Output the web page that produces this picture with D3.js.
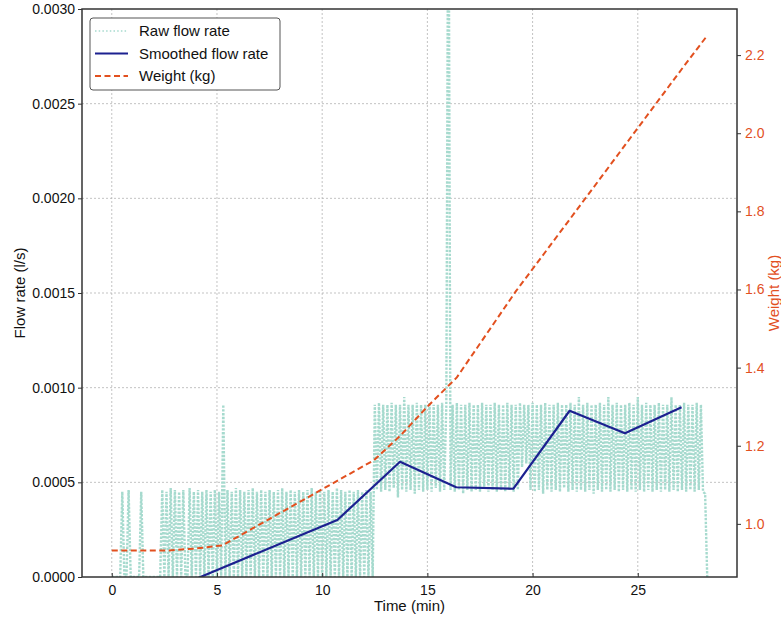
<!DOCTYPE html>
<html>
<head>
<meta charset="utf-8">
<script src="https://cdn.jsdelivr.net/npm/d3@7"></script>
<style>
  html, body { margin: 0; padding: 0; background: #fff; }
  svg { display: block; font-family: "Liberation Sans", Arial, sans-serif; }
</style>
</head>
<body>
<svg id="chart" width="781" height="618"></svg>
<script>
// ---------------- data ----------------
// Raw flow rate, sampled every 0.1 min from t = 0, values in units of 1e-5 l/s
const rawStartMin = 0;
const rawStepMin = 0.1;
const rawFlowE5 = [
  0,0,0,0,0,45,0,0,46,0,
  0,0,0,0,45,0,0,0,0,0,
  0,0,0,0,46,0,45,0,47,0,
  46,0,45,0,46,0,0,47,0,45,
  0,46,0,45,0,46,0,45,0,46,
  0,45,0,91,0,46,0,45,0,47,
  0,46,0,45,0,46,0,47,0,45,
  0,46,0,45,0,46,0,45,0,46,
  0,47,0,45,0,46,0,45,0,46,
  0,45,0,46,0,47,0,45,0,46,
  0,45,0,46,0,45,0,47,0,46,
  0,45,0,46,0,45,0,46,0,45,
  0,46,0,45,0,91,46,92,45,91,
  46,91,45,92,47,91,42,91,46,95,
  45,91,46,91,44,92,46,91,45,91,
  46,92,45,91,47,91,45,92,46,91,
  400,46,91,45,92,46,91,44,91,46,
  92,45,91,46,91,45,92,47,91,45,
  91,46,92,45,91,46,91,45,92,46,
  91,45,91,46,92,58,91,60,91,46,
  92,45,91,46,91,44,92,46,91,45,
  91,46,92,45,91,47,91,45,92,46,
  91,45,95,46,91,45,92,46,91,44,
  91,46,92,45,91,46,95,45,91,46,
  92,45,91,46,91,45,92,46,91,45,
  95,46,91,45,92,46,91,45,91,46,
  92,45,91,46,91,45,95,46,91,45,
  91,46,92,45,91,46,91,45,92,46,
  91,45,44,0
];

// Smoothed flow rate (l/s)
const smoothTime = [2.67, 5.35, 8.03, 10.72, 13.70, 16.37, 19.08, 21.76, 24.39, 27.08];
const smoothFlow = [-0.000072, 0.000053, 0.000177, 0.000301, 0.000609, 0.000474, 0.000466, 0.000878, 0.000759, 0.000896];

// Weight (kg)
const weightTime = [0, 2.7, 4.0, 5.26, 12.46, 13.7, 15.0, 16.4, 19.2, 21.8, 24.4, 27.1, 28.3];
const weightKg   = [0.932, 0.932, 0.937, 0.945, 1.163, 1.225, 1.300, 1.375, 1.595, 1.782, 1.970, 2.165, 2.250];

// Ticks
const xTicks = [0, 5, 10, 15, 20, 25];
const flowTicks = [0, 0.0005, 0.0010, 0.0015, 0.0020, 0.0025, 0.0030];
const weightTicks = [1.0, 1.2, 1.4, 1.6, 1.8, 2.0, 2.2];

// ---------------- styles ----------------
const C_RAW = "#a6dace";
const C_SMOOTH = "#1c2190";
const C_WEIGHT = "#e2501f";
const C_AXIS = "#333";

const W = 781, H = 618;
const M = { left: 82, right: 44, top: 9, bottom: 41 };
const pw = W - M.left - M.right, ph = H - M.top - M.bottom;

const svg = d3.select("#chart");
const g = svg.append("g").attr("transform", `translate(${M.left},${M.top})`);

const x = d3.scaleLinear().domain([-1.415, 29.715]).range([0, pw]);
const yL = d3.scaleLinear().domain([0, 0.0030]).range([ph, 0]);
const yR = d3.scaleLinear().domain([0.864, 2.318]).range([ph, 0]);

svg.append("defs").append("clipPath").attr("id", "clip")
  .append("rect").attr("x", 0).attr("y", 0).attr("width", pw).attr("height", ph);

// grid
const grid = g.append("g");
grid.selectAll(".vg").data(xTicks).join("line")
  .attr("x1", d => x(d)).attr("x2", d => x(d)).attr("y1", 0).attr("y2", ph)
  .attr("stroke", "#b4b4b4").attr("stroke-width", 0.8).attr("stroke-dasharray", "2,2");
grid.selectAll(".hg").data(flowTicks.slice(1, -1)).join("line")
  .attr("x1", 0).attr("x2", pw).attr("y1", d => yL(d)).attr("y2", d => yL(d))
  .attr("stroke", "#b4b4b4").attr("stroke-width", 0.8).attr("stroke-dasharray", "2,2");

const plot = g.append("g").attr("clip-path", "url(#clip)");

// raw flow
const rawPts = rawFlowE5.map((v, i) => [rawStartMin + i * rawStepMin, v * 1e-5]);
plot.append("path").datum(rawPts)
  .attr("fill", "none").attr("stroke", C_RAW).attr("stroke-width", 2.4)
  .attr("stroke-dasharray", "2.4,1.4")
  .attr("d", d3.line().x(d => x(d[0])).y(d => yL(d[1])));

// smoothed flow
plot.append("path").datum(smoothTime.map((t, i) => [t, smoothFlow[i]]))
  .attr("fill", "none").attr("stroke", C_SMOOTH).attr("stroke-width", 2.2)
  .attr("stroke-linejoin", "round")
  .attr("d", d3.line().x(d => x(d[0])).y(d => yL(d[1])));

// weight
plot.append("path").datum(weightTime.map((t, i) => [t, weightKg[i]]))
  .attr("fill", "none").attr("stroke", C_WEIGHT).attr("stroke-width", 2)
  .attr("stroke-dasharray", "6,3.5")
  .attr("d", d3.line().x(d => x(d[0])).y(d => yR(d[1])));

// axes
const fmt4 = d3.format(".4f");
const axB = g.append("g").attr("transform", `translate(0,${ph})`)
  .call(d3.axisBottom(x).tickValues(xTicks).tickSizeInner(-4).tickSizeOuter(0).tickPadding(8).tickFormat(d3.format("d")));
const axL = g.append("g")
  .call(d3.axisLeft(yL).tickValues(flowTicks).tickSizeInner(4).tickSizeOuter(0).tickPadding(3).tickFormat(fmt4));
const axR = g.append("g").attr("transform", `translate(${pw},0)`)
  .call(d3.axisRight(yR).tickValues(weightTicks).tickSizeInner(4).tickSizeOuter(0).tickPadding(4).tickFormat(d3.format(".1f")));

[axB, axL, axR].forEach(a => {
  a.select(".domain").remove();
  a.selectAll("text").attr("font-size", 14).attr("font-family", "Liberation Sans, Arial, sans-serif");
});
axB.selectAll("line").attr("stroke", C_AXIS);
axB.selectAll("text").attr("fill", "#111");
axL.selectAll("line").attr("stroke", C_AXIS);
axL.selectAll("text").attr("fill", "#111");
axR.selectAll("line").attr("stroke", C_AXIS);
axR.selectAll("text").attr("fill", C_WEIGHT);

// frame
g.append("rect").attr("x", 0).attr("y", 0).attr("width", pw).attr("height", ph)
  .attr("fill", "none").attr("stroke", C_AXIS).attr("stroke-width", 1.5);

// axis labels
svg.append("text").attr("x", M.left + pw / 2).attr("y", 611)
  .attr("text-anchor", "middle").attr("font-size", 15).attr("fill", "#111").text("Time (min)");
svg.append("text").attr("transform", `translate(25,${M.top + ph / 2}) rotate(-90)`)
  .attr("text-anchor", "middle").attr("font-size", 15).attr("fill", "#111").text("Flow rate (l/s)");
svg.append("text").attr("transform", `translate(779,${M.top + ph / 2}) rotate(-90)`)
  .attr("text-anchor", "middle").attr("font-size", 15).attr("fill", C_WEIGHT).text("Weight (kg)");

// legend
const leg = svg.append("g").attr("transform", "translate(90,18)");
leg.append("rect").attr("width", 190).attr("height", 72).attr("rx", 3)
  .attr("fill", "#fff").attr("stroke", "#555").attr("stroke-width", 1);
const legItems = [
  { label: "Raw flow rate", color: C_RAW, dash: "1.5,2.2", w: 1.5 },
  { label: "Smoothed flow rate", color: C_SMOOTH, dash: null, w: 2.2 },
  { label: "Weight (kg)", color: C_WEIGHT, dash: "6,3.5", w: 2 }
];
legItems.forEach((it, i) => {
  const yy = 13 + i * 22.5;
  leg.append("line").attr("x1", 5).attr("x2", 38).attr("y1", yy).attr("y2", yy)
    .attr("stroke", it.color).attr("stroke-width", it.w)
    .attr("stroke-dasharray", it.dash);
  leg.append("text").attr("x", 49).attr("y", yy + 5).attr("font-size", 15).attr("fill", "#111").text(it.label);
});
</script>
</body>
</html>
